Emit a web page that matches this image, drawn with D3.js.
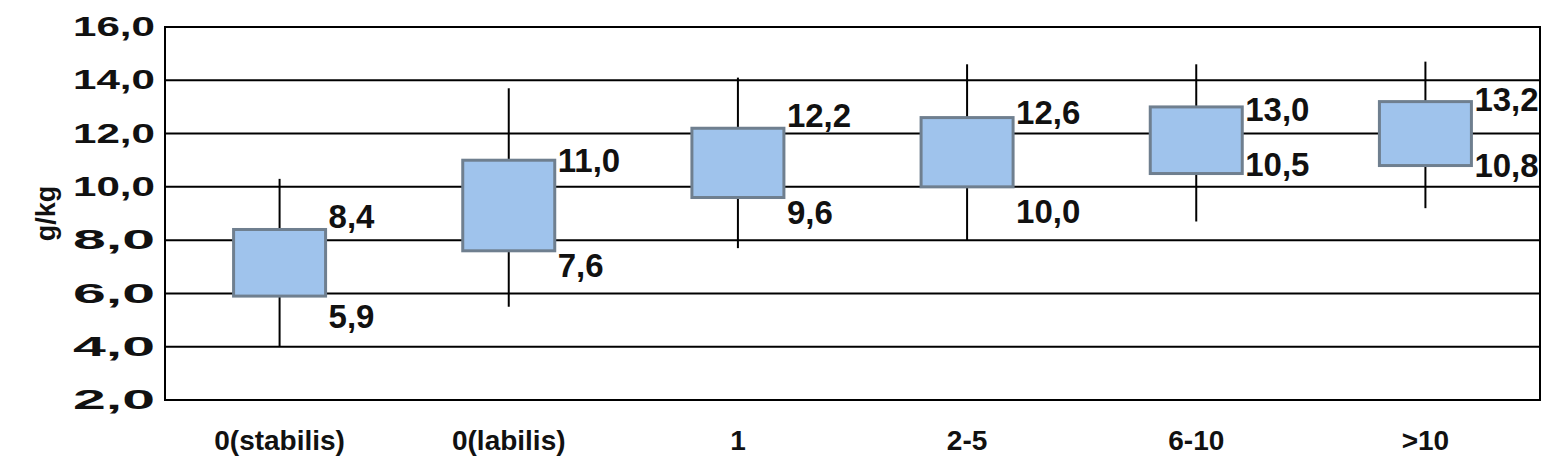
<!DOCTYPE html>
<html>
<head>
<meta charset="utf-8">
<script src="https://cdn.jsdelivr.net/npm/d3@7"></script>
<style>
  body { margin: 0; background: #fff; }
  text { font-family: "Liberation Sans", Arial, sans-serif; font-weight: bold; fill: #111; }
</style>
</head>
<body>
<div id="chart"></div>
<script>
// data
var categories = ["0(stabilis)", "0(labilis)", "1", "2-5", "6-10", ">10"];
var whiskerLow  = [4.0, 5.5, 7.7, 8.0, 8.7, 9.2];
var whiskerHigh = [10.3, 13.7, 14.1, 14.6, 14.6, 14.7];
var boxLow  = [5.9, 7.6, 9.6, 10.0, 10.5, 10.8];
var boxHigh = [8.4, 11.0, 12.2, 12.6, 13.0, 13.2];
var yTicks = [2, 4, 6, 8, 10, 12, 14, 16];

// label nudges (px) to mimic the original placement
var topDy = [-13, 0, -13, -5, 3, -2];
var lowDy = [20, 15, 15, 25, -9, 0];

var svgWidth = 1550, svgHeight = 470;
var margin = { top: 27, right: 10, bottom: 70, left: 165 };
var width = svgWidth - margin.left - margin.right;
var height = svgHeight - margin.top - margin.bottom;

var svg = d3.select("#chart").append("svg")
  .attr("width", svgWidth).attr("height", svgHeight);
var g = svg.append("g").attr("transform", `translate(${margin.left},${margin.top})`);

var x = d3.scaleBand().domain(categories).range([0, width]);
var y = d3.scaleLinear().domain([2, 16]).range([height, 0]);
var fmt = v => d3.format(".1f")(v).replace(".", ",");

// grid
g.selectAll(".grid").data(yTicks).enter().append("line")
  .attr("x1", 0).attr("x2", width)
  .attr("y1", d => y(d)).attr("y2", d => y(d))
  .attr("stroke", "#000").attr("stroke-width", 2);
g.append("rect").attr("width", width).attr("height", height)
  .attr("fill", "none").attr("stroke", "#000").attr("stroke-width", 2);

// y axis
var yAxis = g.append("g").call(d3.axisLeft(y).tickValues(yTicks).tickFormat(fmt).tickSize(0).tickPadding(10));
yAxis.select(".domain").remove();
yAxis.selectAll("text").style("font-size", "27px").style("font-family", "Liberation Sans, Arial").style("font-weight", "bold")
  .attr("textLength", 82).attr("lengthAdjust", "spacingAndGlyphs");

// x axis
var xAxis = g.append("g").attr("transform", `translate(0,${height})`)
  .call(d3.axisBottom(x).tickSize(0).tickPadding(30));
xAxis.select(".domain").remove();
xAxis.selectAll("text").style("font-size", "28px").style("font-family", "Liberation Sans, Arial").style("font-weight", "bold");

svg.append("text").attr("transform", "rotate(-90)")
  .attr("x", -(margin.top + height / 2)).attr("y", 55)
  .attr("text-anchor", "middle").style("font-size", "27px").text("g/kg");

var boxW = 92;
var idx = d3.range(categories.length);

g.selectAll(".whisker").data(idx).enter().append("line")
  .attr("x1", i => x(categories[i]) + x.bandwidth() / 2)
  .attr("x2", i => x(categories[i]) + x.bandwidth() / 2)
  .attr("y1", i => y(whiskerLow[i])).attr("y2", i => y(whiskerHigh[i]))
  .attr("stroke", "#000").attr("stroke-width", 2);

g.selectAll(".box").data(idx).enter().append("rect")
  .attr("x", i => x(categories[i]) + x.bandwidth() / 2 - boxW / 2)
  .attr("y", i => y(boxHigh[i]))
  .attr("width", boxW)
  .attr("height", i => y(boxLow[i]) - y(boxHigh[i]))
  .attr("fill", "#9fc3ec").attr("stroke", "#6f7f8f").attr("stroke-width", 3);

g.selectAll(".lblHi").data(idx).enter().append("text")
  .attr("x", i => x(categories[i]) + x.bandwidth() / 2 + boxW / 2 + 3)
  .attr("y", i => y(boxHigh[i]) + topDy[i]).attr("dy", "0.35em")
  .style("font-size", "33px").text(i => fmt(boxHigh[i]));

g.selectAll(".lblLo").data(idx).enter().append("text")
  .attr("x", i => x(categories[i]) + x.bandwidth() / 2 + boxW / 2 + 3)
  .attr("y", i => y(boxLow[i]) + lowDy[i]).attr("dy", "0.35em")
  .style("font-size", "33px").text(i => fmt(boxLow[i]));
</script>
</body>
</html>
